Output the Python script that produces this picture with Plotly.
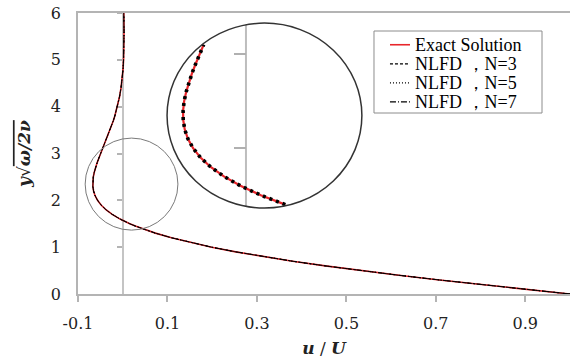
import plotly.graph_objects as go

# Values: height coordinate and velocity ratio u/U
eta = [0.0, 0.1, 0.2, 0.3, 0.4, 0.5, 0.6, 0.7, 0.8, 0.9, 1.0, 1.1, 1.2, 1.3, 1.35, 1.4, 1.45,
       1.5, 1.6, 1.7, 1.8, 1.9, 2.0, 2.1, 2.2, 2.3, 2.4, 2.5, 2.6, 2.7, 2.8, 2.9, 3.0, 3.05,
       3.1, 3.15, 3.2, 3.3, 3.4, 3.5, 3.6, 3.7, 3.8, 3.9, 4.0, 4.2, 4.4, 4.6, 4.8, 5.0, 5.3,
       5.6, 6.0]
u_exact = [1.0, 0.9003, 0.8024, 0.7077, 0.6174, 0.5323, 0.4530, 0.3798, 0.3131, 0.2527,
           0.1988, 0.1510, 0.1091, 0.0729, 0.0568, 0.0419, 0.0283, 0.0158, -0.0059, -0.0235,
           -0.0376, -0.0484, -0.0563, -0.0618, -0.0652, -0.0668, -0.0669, -0.0658, -0.0636,
           -0.0608, -0.0573, -0.0534, -0.0493, -0.0472, -0.0450, -0.0429, -0.0407, -0.0364,
           -0.0323, -0.0283, -0.0245, -0.0210, -0.0177, -0.0147, -0.0120, -0.0074, -0.0038,
           -0.0011, 0.0007, 0.0019, 0.0028, 0.0029, 0.0024]
u_nlfd3 = list(u_exact)
u_nlfd5 = list(u_exact)
u_nlfd7 = list(u_exact)

series_names = ["Exact Solution", "NLFD \uff0cN=3", "NLFD \uff0cN=5", "NLFD \uff0cN=7"]

x_tick_vals = [-0.1, 0.1, 0.3, 0.5, 0.7, 0.9]
x_tick_text = ["-0.1", "0.1", "0.3", "0.5", "0.7", "0.9"]
y_tick_vals = [0, 1, 2, 3, 4, 5, 6]
inset_tick_vals = [2, 3]

# zoom window (data coords) shown by the small circle and the inset
zoom_x = [-0.084, 0.1234]
zoom_y = [1.364, 3.329]
inset_dom_x = [0.181, 0.577]
inset_dom_y = [0.306, 0.964]

serif = "DejaVu Serif"
tnr = "Liberation Serif"
axis_grey = "#b4b4b4"
red = "#e8262b"
styles = [dict(color=red, width=1.6),
          dict(color="black", width=1, dash="3px,2px"),
          dict(color="black", width=1, dash="1px,2px"),
          dict(color="black", width=1, dash="6px,2px,1px,2px")]
series = [u_exact, u_nlfd3, u_nlfd5, u_nlfd7]

fig = go.Figure()

# main curves
for name, vals, st in zip(series_names, series, styles):
    fig.add_trace(go.Scatter(x=vals, y=eta, mode="lines", name=name, line=st,
                             showlegend=False))

# inset: keep only points inside the zoom ellipse
cx = (zoom_x[0] + zoom_x[1]) / 2
rx = (zoom_x[1] - zoom_x[0]) / 2
cy = (zoom_y[0] + zoom_y[1]) / 2
ry = (zoom_y[1] - zoom_y[0]) / 2


def inside(u, e):
    return ((u - cx) / rx) ** 2 + ((e - cy) / ry) ** 2 <= 1.0


ins_u = [u for u, e in zip(u_exact, eta) if inside(u, e)]
ins_e = [e for u, e in zip(u_exact, eta) if inside(u, e)]
ins_u5 = [u for u, e in zip(u_nlfd5, eta) if inside(u, e)]
ins_e5 = [e for u, e in zip(u_nlfd5, eta) if inside(u, e)]

# inset zero line clipped by the ellipse
half = ry * (1 - ((0 - cx) / rx) ** 2) ** 0.5
fig.add_trace(go.Scatter(x=[0, 0], y=[cy - half, cy + half], mode="lines", showlegend=False,
                         xaxis="x2", yaxis="y2", line=dict(color="#bdbdbd", width=2),
                         hoverinfo="skip"))
fig.add_trace(go.Scatter(x=ins_u, y=ins_e, mode="lines", showlegend=False,
                         xaxis="x2", yaxis="y2", line=dict(color=red, width=2.2)))
fig.add_trace(go.Scatter(x=ins_u5, y=ins_e5, mode="lines", showlegend=False,
                         xaxis="x2", yaxis="y2",
                         line=dict(color="black", width=3.6, dash="3px,4px")))

# dummy trace so yaxis3 renders
fig.add_trace(go.Scatter(x=[None], y=[None], yaxis="y3", showlegend=False, hoverinfo="skip"))

fig.update_layout(
    width=570, height=360,
    margin=dict(l=78, r=0, t=13, b=66, autoexpand=False),
    paper_bgcolor="white", plot_bgcolor="rgba(0,0,0,0)",
    showlegend=False,
    xaxis=dict(range=[-0.1, 1.0], tickvals=x_tick_vals, ticktext=x_tick_text,
               automargin=False,
               showgrid=False, zeroline=False, showline=True, linecolor=axis_grey,
               linewidth=1.5, mirror=True, ticks="outside", ticklen=6, tickcolor=axis_grey,
               tickwidth=1.5, ticklabelstandoff=8,
               tickfont=dict(family=serif, size=16, color="#222"),
               title=dict(text="<b><i>u</i></b> / <b><i>U</i></b>", standoff=10,
                          font=dict(family=serif, size=17, color="#222"))),
    yaxis=dict(range=[0, 6], tickvals=y_tick_vals, showgrid=False, zeroline=False,
               automargin=False,
               showline=True, linecolor=axis_grey, linewidth=1.5, ticks="",
               ticklabelstandoff=12,
               tickfont=dict(family=serif, size=16, color="#222"),
               title=dict(text="<b><i>y</i></b>\u221a<span style='text-decoration:overline'><b><i>\u03c9/2\u03bd</i></b></span>",
                          standoff=16, font=dict(family=serif, size=17, color="#222"))),
    yaxis3=dict(overlaying="y", anchor="free", position=0.1 / 1.1, range=[0, 6],
                automargin=False, layer="below traces",
                tickvals=y_tick_vals[1:], showticklabels=False, showgrid=False,
                zeroline=False, showline=True, linecolor="#c4c4c4", linewidth=1.5,
                ticks="outside", ticklen=5, tickcolor=axis_grey, tickwidth=1.5),
    xaxis2=dict(domain=inset_dom_x, anchor="y2", range=zoom_x, visible=False,
                automargin=False),
    yaxis2=dict(domain=inset_dom_y, anchor="free", automargin=False,
                position=inset_dom_x[0] + (0 - zoom_x[0]) / (zoom_x[1] - zoom_x[0]) * (inset_dom_x[1] - inset_dom_x[0]),
                range=zoom_y, tickvals=inset_tick_vals, showticklabels=False,
                showgrid=False, zeroline=False, showline=False, ticks="outside",
                ticklen=12, tickcolor="#b0b0b0", tickwidth=1.5),
)

# small circle (zoom window) and big circle (inset frame)
fig.add_shape(type="circle", xref="x", yref="y", x0=zoom_x[0], x1=zoom_x[1],
              y0=zoom_y[0], y1=zoom_y[1], line=dict(color="#7a7a7a", width=1))
fig.add_shape(type="circle", xref="paper", yref="paper", x0=inset_dom_x[0], x1=inset_dom_x[1],
              y0=inset_dom_y[0], y1=inset_dom_y[1], line=dict(color="#333333", width=1.5))

# legend box (compact, like the reference)
leg_x0, leg_x1, leg_y0, leg_y1 = 0.6016, 0.9431, 0.6441, 0.9359
fig.add_shape(type="rect", xref="paper", yref="paper", x0=leg_x0, x1=leg_x1,
              y0=leg_y0, y1=leg_y1, line=dict(color="#8c8c8c", width=1), fillcolor="white")
row_step = (leg_y1 - leg_y0) / 4.3
for i, (name, st) in enumerate(zip(series_names, styles)):
    ry_ = leg_y1 - row_step * (0.72 + i)
    fig.add_shape(type="line", xref="paper", yref="paper", x0=0.6341, x1=0.6748,
                  y0=ry_, y1=ry_, line=dict(st, width=1.3 if i else 1.6))
    fig.add_annotation(xref="paper", yref="paper", x=0.6809, y=ry_, text=name,
                       showarrow=False, xanchor="left", yanchor="middle",
                       font=dict(family=tnr, size=18, color="black"))

fig.write_html("out.html", config={"displayModeBar": False},
               post_script="document.body.style.margin='0px';")
